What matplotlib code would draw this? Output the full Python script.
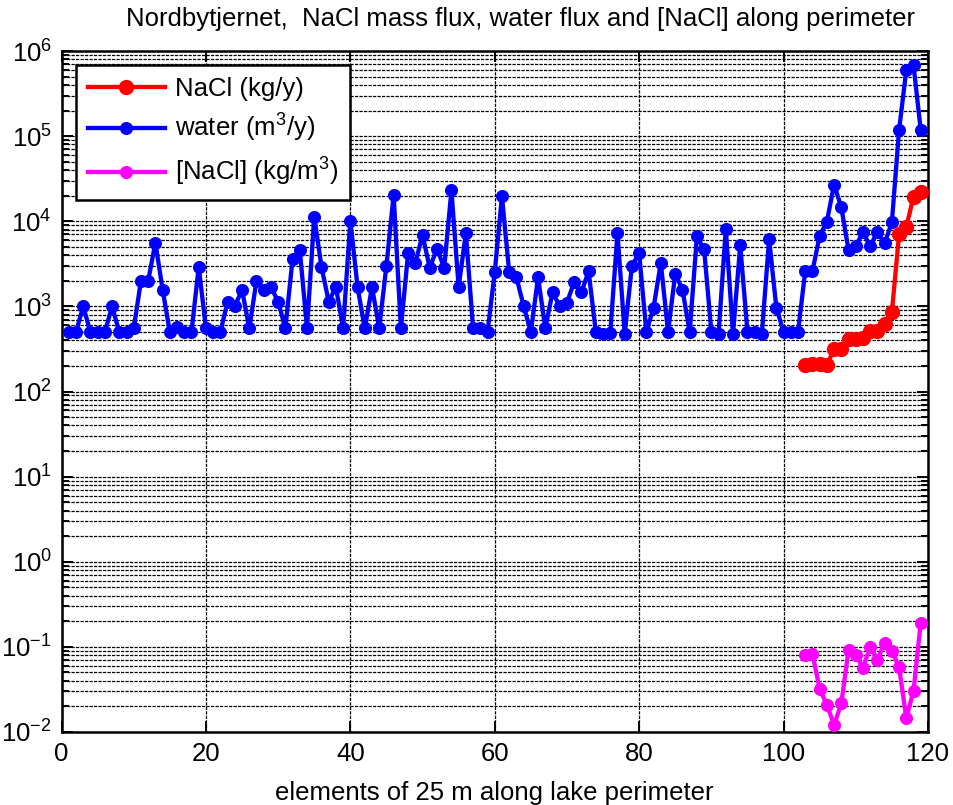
import matplotlib
matplotlib.use("Agg")
import matplotlib.pyplot as plt
import numpy as np
from matplotlib.ticker import LogLocator, FixedLocator, NullFormatter, LogFormatterSciNotation

plt.rcParams['font.family'] = ['Liberation Sans', 'DejaVu Sans']
plt.rcParams['mathtext.fontset'] = 'custom'
plt.rcParams['mathtext.rm'] = 'Liberation Sans'
plt.rcParams['mathtext.it'] = 'Liberation Sans'
plt.rcParams['mathtext.default'] = 'regular'
plt.rcParams['axes.unicode_minus'] = False

# ---- data ----
water_x = list(range(1, 120))
water = [500, 500, 1000, 500, 500, 500, 1000, 500, 500, 550,
         2000, 2000, 5600, 1570, 500, 575, 500, 500, 2920, 550,
         500, 500, 1140, 1000, 1570, 550, 2000, 1570, 1690, 1140,
         550, 3630, 4560, 550, 11300, 2920, 1140, 1690, 550, 10200,
         1690, 550, 1690, 550, 3020, 20500, 550, 4200, 3260, 6870,
         2840, 4770, 2840, 23000, 1690, 7250, 550, 550, 500, 2520,
         19600, 2520, 2200, 1010, 500, 2200, 550, 1460, 1010, 1110,
         1920, 1460, 2590, 500, 480, 490, 7250, 475, 3020, 4200,
         500, 970, 3260, 500, 2410, 1570, 500, 6630, 4690, 500,
         480, 8100, 480, 5230, 500, 500, 480, 6160, 970, 500,
         500, 500, 2590, 2590, 6730, 9900, 27000, 14600, 4600, 5130,
         7410, 5130, 7410, 5500, 9700, 118000, 600000, 680000, 118000]

nacl_x = list(range(103, 120))
nacl = [205, 210, 210, 205, 315, 315, 415, 410, 420, 510,
        520, 620, 850, 7000, 8500, 19500, 22000]

conc_x = list(range(103, 120))
conc = [0.080, 0.083, 0.032, 0.021, 0.012, 0.0217, 0.092, 0.080, 0.057, 0.100,
        0.071, 0.112, 0.090, 0.058, 0.0145, 0.0305, 0.192]

labels = ['NaCl (kg/y)', 'water (m$^3$/y)', '[NaCl] (kg/m$^3$)']
title = 'Nordbytjernet,  NaCl mass flux, water flux and [NaCl] along perimeter'
xlabel = 'elements of 25 m along lake perimeter'
xticks = [0, 20, 40, 60, 80, 100, 120]
yticks = [1e-2, 1e-1, 1e0, 1e1, 1e2, 1e3, 1e4, 1e5, 1e6]

# ---- figure ----
fig = plt.figure(figsize=(9.54, 8.05), dpi=100)
ax = fig.add_axes([0.0645, 0.0907, 0.9082, 0.8459])

style = dict(marker='o', markersize=6.8, markeredgewidth=2.6, linewidth=3.1)
ax.plot(nacl_x, nacl, color='#ff0000', label=labels[0], zorder=4,
        **dict(style, markersize=8, markeredgewidth=3))
ax.plot(water_x, water, color='#0000ff', label=labels[1], zorder=3, **style)
ax.plot(conc_x, conc, color='#ff00ff', label=labels[2], zorder=4, **style)

ax.set_yscale('log')
ax.set_xlim(0, 120)
ax.set_ylim(1e-2, 1e6)
ax.xaxis.set_major_locator(FixedLocator(xticks))
ax.yaxis.set_major_locator(FixedLocator(yticks))
ax.yaxis.set_major_formatter(LogFormatterSciNotation())
ax.yaxis.set_minor_locator(LogLocator(base=10, subs=np.arange(2, 10), numticks=20))
ax.yaxis.set_minor_formatter(NullFormatter())

gkw = dict(color='black', linewidth=0.9, dashes=(2.6, 1.0))
ax.grid(True, which='major', axis='both', **gkw)
ax.grid(True, which='minor', axis='y', **gkw)

ax.tick_params(which='both', direction='in', top=True, right=True, labelsize=18.5, width=1.4)
ax.tick_params(which='major', length=8, pad=7)
ax.tick_params(which='minor', length=5)
for s in ax.spines.values():
    s.set_linewidth(1.8)

ax.set_title(title, fontsize=18.5, pad=18, x=0.53)
ax.set_xlabel(xlabel, fontsize=18.5, labelpad=11)

leg = ax.legend(loc='upper left', bbox_to_anchor=(0.011, 0.987), fontsize=18.5,
                handlelength=3.0, handletextpad=0.4, labelspacing=0.45,
                borderpad=0.45, borderaxespad=0.2, fancybox=False, framealpha=1,
                edgecolor='black')
leg.get_frame().set_linewidth(1.8)

fig.savefig('out.png', dpi=100)
